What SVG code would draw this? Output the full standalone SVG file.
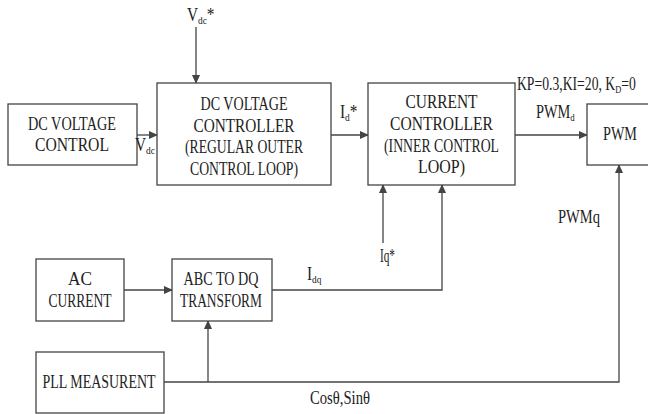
<svg xmlns="http://www.w3.org/2000/svg" width="648" height="414" viewBox="0 0 648 414">
<defs>
<style>
.box{fill:#fff;stroke:#444;stroke-width:1.3}
.ln{fill:none;stroke:#444;stroke-width:1.3}
.arr{marker-end:url(#ah)}
text{font-family:"Liberation Serif","Times New Roman",serif;font-size:18px;fill:#222}
.c{text-anchor:middle}
.sub{font-size:11px}
</style>
<marker id="ah" markerUnits="userSpaceOnUse" markerWidth="9" markerHeight="8" refX="8" refY="4" orient="auto">
<path d="M0,0 L9,4 L0,8 z" fill="#444"/>
</marker>
</defs>
<rect width="648" height="414" fill="#fff"/>
<g id="connectors">
<line class="ln arr" x1="196" y1="27" x2="196" y2="83"/>
<line class="ln arr" x1="137" y1="135" x2="157" y2="135"/>
<line class="ln arr" x1="331" y1="135" x2="368" y2="135"/>
<line class="ln arr" x1="515" y1="135" x2="587" y2="135"/>
<line class="ln arr" x1="383" y1="243" x2="383" y2="185"/>
<polyline class="ln arr" points="272,290 442,290 442,185"/>
<line class="ln arr" x1="124" y1="290" x2="172" y2="290"/>
<polyline class="ln arr" points="164,382 619,382 619,165"/>
<line class="ln arr" x1="208" y1="382" x2="208" y2="321"/>
</g>
<g id="dc-voltage-control">
<rect class="box" x="8" y="104" width="129" height="61"/>
<text class="c" x="72" y="130" textLength="88" lengthAdjust="spacingAndGlyphs">DC VOLTAGE</text>
<text class="c" x="72" y="151" textLength="74" lengthAdjust="spacingAndGlyphs">CONTROL</text>
</g>
<g id="dc-voltage-controller">
<rect class="box" x="157" y="83" width="174" height="102"/>
<text class="c" x="244" y="110" textLength="87" lengthAdjust="spacingAndGlyphs">DC VOLTAGE</text>
<text class="c" x="244" y="132" textLength="101" lengthAdjust="spacingAndGlyphs">CONTROLLER</text>
<text class="c" x="244" y="153" textLength="118" lengthAdjust="spacingAndGlyphs">(REGULAR OUTER</text>
<text class="c" x="244" y="175" textLength="108" lengthAdjust="spacingAndGlyphs">CONTROL LOOP)</text>
</g>
<g id="current-controller">
<rect class="box" x="368" y="83" width="147" height="102"/>
<text class="c" x="441.5" y="108" textLength="72" lengthAdjust="spacingAndGlyphs">CURRENT</text>
<text class="c" x="441.5" y="130" textLength="103" lengthAdjust="spacingAndGlyphs">CONTROLLER</text>
<text class="c" x="441.5" y="152" textLength="115" lengthAdjust="spacingAndGlyphs">(INNER CONTROL</text>
<text class="c" x="441.5" y="173" textLength="47" lengthAdjust="spacingAndGlyphs">LOOP)</text>
</g>
<g id="pwm">
<rect class="box" x="587" y="104" width="70" height="61"/>
<text class="c" x="620" y="140" textLength="34" lengthAdjust="spacingAndGlyphs">PWM</text>
</g>
<g id="ac-current">
<rect class="box" x="36" y="259" width="88" height="62"/>
<text class="c" x="80" y="285" textLength="24" lengthAdjust="spacingAndGlyphs">AC</text>
<text class="c" x="80" y="307" textLength="63" lengthAdjust="spacingAndGlyphs">CURRENT</text>
</g>
<g id="abc-to-dq">
<rect class="box" x="172" y="259" width="100" height="62"/>
<text class="c" x="221" y="285" textLength="75" lengthAdjust="spacingAndGlyphs">ABC TO DQ</text>
<text class="c" x="221" y="307" textLength="82" lengthAdjust="spacingAndGlyphs">TRANSFORM</text>
</g>
<g id="pll-measurent">
<rect class="box" x="36" y="352" width="128" height="61"/>
<text class="c" x="99" y="388" textLength="113" lengthAdjust="spacingAndGlyphs">PLL MEASURENT</text>
</g>
<g id="labels">
<text transform="translate(187,21) scale(0.85,1)">V<tspan class="sub" dy="3">dc</tspan><tspan dy="-3">*</tspan></text>
<text transform="translate(135,151) scale(0.85,1)">V<tspan class="sub" dy="3">dc</tspan></text>
<text transform="translate(340,118) scale(0.85,1)">I<tspan class="sub" dy="3">d</tspan><tspan dy="-3">*</tspan></text>
<text transform="translate(517,90) scale(0.76,1)">KP=0.3,KI=20, K<tspan class="sub" dy="3">D</tspan><tspan dy="-3">=0</tspan></text>
<text transform="translate(536,118) scale(0.8,1)">PWM<tspan class="sub" dy="3">d</tspan></text>
<text x="558" y="223" textLength="42" lengthAdjust="spacingAndGlyphs">PWMq</text>
<text x="380" y="262" textLength="15" lengthAdjust="spacingAndGlyphs">Iq*</text>
<text transform="translate(307,280) scale(0.85,1)">I<tspan class="sub" dy="3">dq</tspan></text>
<text x="310" y="404" textLength="60" lengthAdjust="spacingAndGlyphs">Cosθ,Sinθ</text>
</g>
</svg>
